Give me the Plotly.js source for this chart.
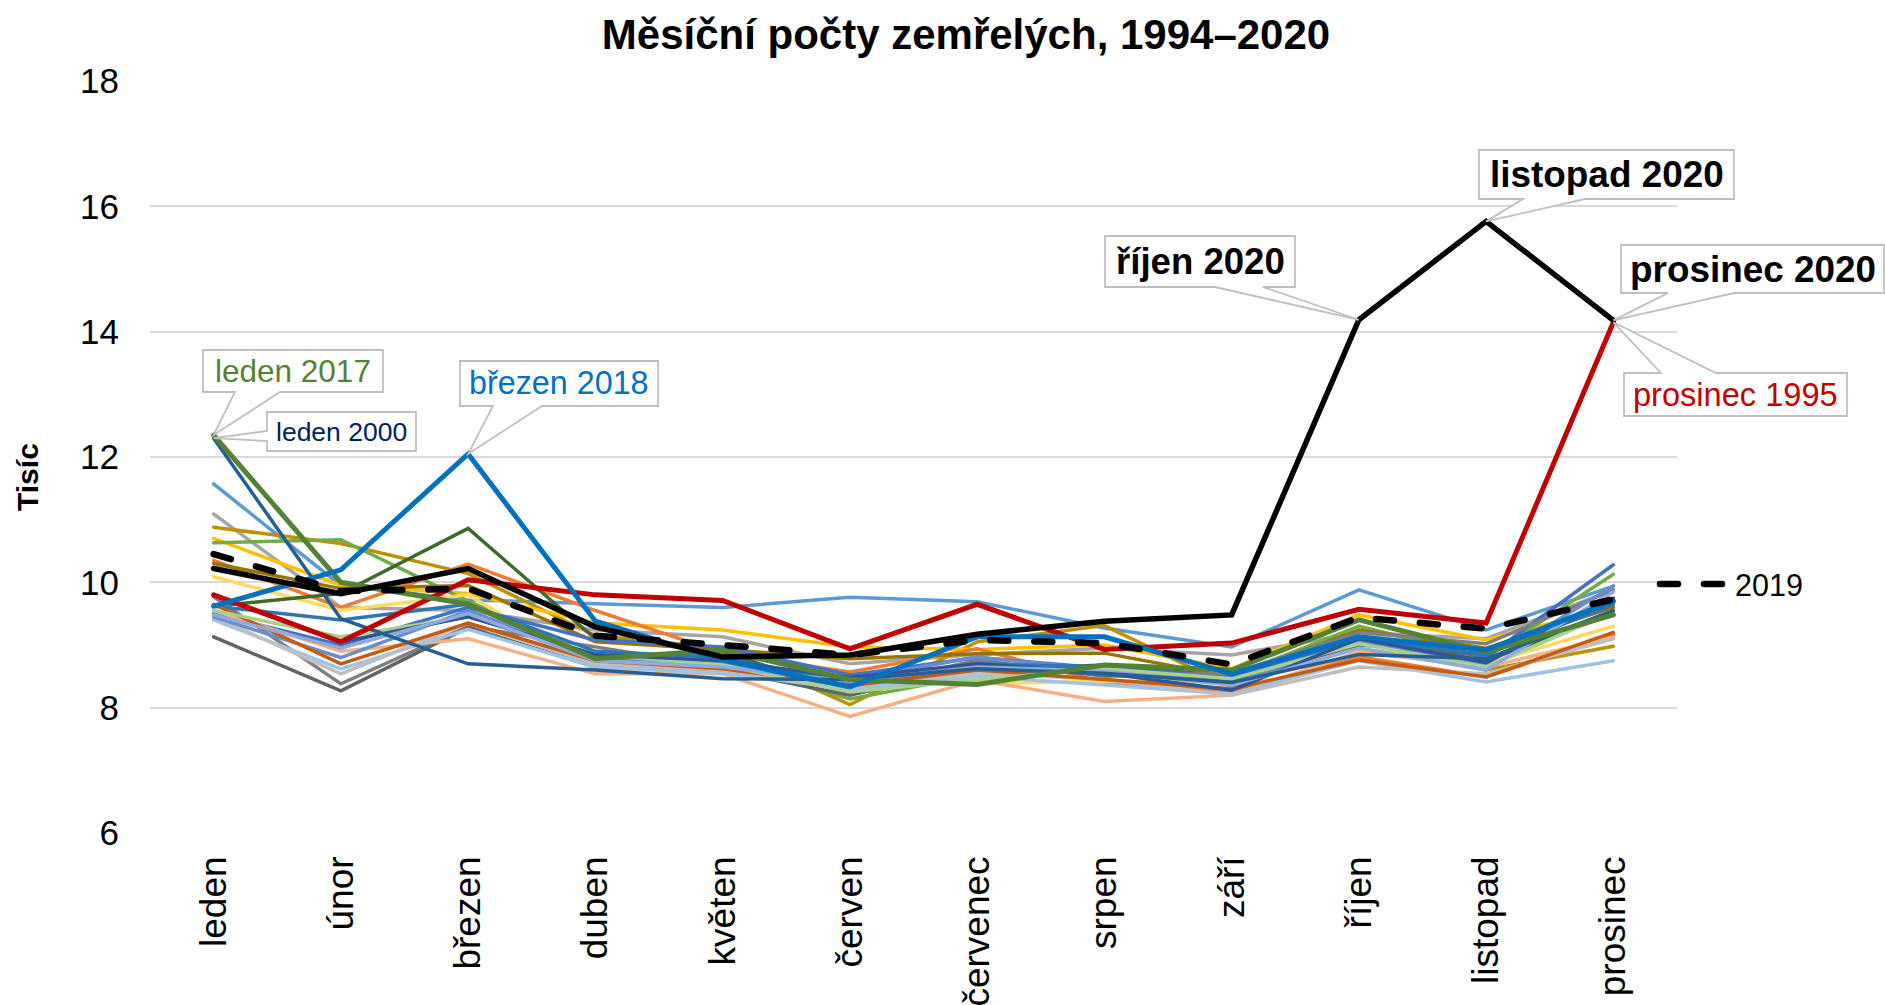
<!DOCTYPE html>
<html>
<head>
<meta charset="utf-8">
<script src="https://cdn.plot.ly/plotly-3.0.1.min.js"></script>
<style>
html,body{margin:0;padding:0;background:#fff;}
#chart{width:1885px;height:1005px;}
path.js-line{stroke-linecap:round;}
.shapelayer path{stroke-linecap:round;}
</style>
</head>
<body>
<div id="chart"></div>
<script>
// ---------- DATA (thousands of deaths per month) ----------
const months = ['leden','únor','březen','duben','květen','červen','červenec','srpen','září','říjen','listopad','prosinec'];

const y1994 = [11.57, 9.95, 9.72, 9.66, 9.60, 9.76, 9.69, 9.27, 8.97, 9.88, 9.24, 9.94];
const y1995 = [9.80, 9.05, 10.04, 9.80, 9.71, 8.94, 9.65, 8.93, 9.03, 9.57, 9.35, 14.15];
const y1996 = [11.09, 9.60, 9.55, 9.24, 9.13, 8.70, 8.85, 8.95, 8.84, 9.20, 9.10, 9.88];
const y1997 = [10.88, 10.62, 10.14, 9.15, 8.95, 8.05, 9.05, 9.31, 8.33, 9.05, 8.60, 8.98];
const y1998 = [10.70, 9.95, 9.82, 9.35, 9.24, 8.97, 8.93, 9.00, 8.62, 9.48, 9.08, 9.61];
const y1999 = [10.63, 10.68, 9.70, 8.80, 8.72, 8.14, 8.52, 8.60, 8.50, 9.30, 8.80, 10.13];
const y2000 = [12.30, 9.42, 8.70, 8.60, 8.46, 8.45, 8.62, 8.55, 8.40, 8.85, 8.78, 9.55];
const y2001 = [10.35, 9.60, 10.29, 9.55, 8.87, 8.57, 8.94, 8.40, 8.25, 8.81, 8.49, 9.16];
const y2002 = [10.09, 9.55, 9.80, 8.60, 8.60, 8.40, 8.38, 8.42, 8.40, 8.94, 8.70, 9.30];
const y2003 = [9.62, 9.82, 10.86, 9.10, 8.90, 8.21, 8.60, 8.68, 8.50, 9.10, 8.75, 9.50];
const y2004 = [10.30, 9.90, 9.95, 9.05, 8.93, 8.78, 8.86, 8.87, 8.49, 9.24, 8.95, 9.60];
const y2005 = [9.50, 9.00, 9.60, 9.08, 8.97, 8.52, 8.80, 8.63, 8.50, 9.12, 8.81, 10.28];
const y2006 = [9.77, 8.38, 9.30, 8.97, 8.65, 8.28, 8.76, 8.50, 8.55, 9.20, 9.02, 9.88];
const y2007 = [9.13, 8.27, 9.28, 8.65, 8.60, 8.20, 8.68, 8.52, 8.44, 9.00, 8.85, 9.70];
const y2008 = [9.55, 8.90, 9.10, 8.54, 8.54, 7.86, 8.44, 8.10, 8.20, 8.89, 8.65, 9.12];
const y2009 = [9.40, 8.62, 9.25, 8.65, 8.55, 8.30, 8.50, 8.36, 8.22, 8.75, 8.41, 8.75];
const y2010 = [9.45, 8.54, 9.35, 8.70, 8.60, 8.35, 8.55, 8.45, 8.20, 8.65, 8.54, 9.10];
const y2011 = [9.45, 8.80, 9.55, 8.80, 8.70, 8.45, 8.81, 8.60, 8.38, 9.05, 8.70, 9.94];
const y2012 = [9.62, 9.40, 9.65, 8.90, 8.80, 8.40, 8.70, 8.65, 8.45, 9.10, 8.85, 9.65];
const y2013 = [9.65, 8.70, 9.35, 8.75, 8.62, 8.35, 8.60, 8.45, 8.30, 8.76, 8.49, 9.20];
const y2014 = [9.55, 9.13, 9.45, 8.85, 8.68, 8.25, 8.45, 8.62, 8.46, 9.02, 8.65, 9.53];
const y2015 = [9.80, 9.05, 9.45, 8.85, 8.75, 8.48, 8.70, 8.55, 8.28, 9.10, 8.72, 9.75];
const y2016 = [9.48, 8.95, 9.50, 8.75, 8.65, 8.42, 8.65, 8.58, 8.36, 8.95, 8.60, 9.85];
const y2017 = [12.35, 10.00, 9.65, 8.78, 8.92, 8.45, 8.37, 8.68, 8.60, 9.40, 8.89, 9.48];
const y2018 = [9.62, 10.20, 12.05, 9.38, 8.76, 8.33, 9.13, 9.13, 8.54, 9.13, 8.92, 9.70];
const y2019 = [10.45, 9.86, 9.90, 9.15, 9.00, 8.84, 9.08, 9.03, 8.69, 9.44, 9.26, 9.73];
const y2020 = [10.22, 9.82, 10.22, 9.29, 8.81, 8.84, 9.17, 9.38, 9.48, 14.19, 15.76, 14.18];

const yTicks = [6, 8, 10, 12, 14, 16, 18];

// ---------- STYLES ----------
const FONT = "'Liberation Sans', Arial, Helvetica, sans-serif";
const W = 1885, H = 1005;
const M = {l:150, r:208, t:81, b:172};
const PW = W - M.l - M.r, PH = H - M.t - M.b;
const YMIN = 6, YMAX = 18;

const seriesSpec = [
  {name:'1994', data:y1994, color:'#5B9BD5', width:3.5},
  {name:'1996', data:y1996, color:'#A5A5A5', width:3.5},
  {name:'1997', data:y1997, color:'#BF9000', width:3.5},
  {name:'1998', data:y1998, color:'#FFC000', width:3.5},
  {name:'1999', data:y1999, color:'#70AD47', width:3.5},
  {name:'2001', data:y2001, color:'#ED7D31', width:3.5},
  {name:'2002', data:y2002, color:'#FFD966', width:3.5},
  {name:'2003', data:y2003, color:'#43682B', width:3.5},
  {name:'2004', data:y2004, color:'#997300', width:3.5},
  {name:'2005', data:y2005, color:'#4472C4', width:3.5},
  {name:'2006', data:y2006, color:'#7F7F7F', width:3.5},
  {name:'2007', data:y2007, color:'#636363', width:3.5},
  {name:'2008', data:y2008, color:'#F4B183', width:3.5},
  {name:'2009', data:y2009, color:'#9DC3E6', width:3.5},
  {name:'2010', data:y2010, color:'#BFBFBF', width:3.5},
  {name:'2011', data:y2011, color:'#698ED0', width:3.5},
  {name:'2012', data:y2012, color:'#2E75B6', width:3.5},
  {name:'2013', data:y2013, color:'#C55A11', width:3.5},
  {name:'2014', data:y2014, color:'#A9D18E', width:3.5},
  {name:'2015', data:y2015, color:'#2F5597', width:3.5},
  {name:'2016', data:y2016, color:'#8FAADC', width:3.5},
  {name:'2000', data:y2000, color:'#255E91', width:3.5},
  {name:'1995', data:y1995, color:'#C00000', width:5},
  {name:'2017', data:y2017, color:'#548235', width:5},
  {name:'2018', data:y2018, color:'#0070C0', width:5},
  {name:'2019', data:y2019, color:'#000000', width:6.5, dash:'18px,26px'},
  {name:'2020', data:y2020, color:'#000000', width:5.5}
];

const traces = seriesSpec.map(s => ({
  type:'scatter', mode:'lines', name:s.name,
  x: months, y: s.data,
  line:{color:s.color, width:s.width, dash:s.dash || 'solid', simplify:false},
  hovertemplate: s.name + ' %{x}: %{y:.2f} tis.<extra></extra>'
}));

// ---------- CALLOUTS ----------
const px = X => (X - M.l) / PW;
const py = Y => (H - M.b - Y) / PH;
const tipX = i => (i + 0.5) / months.length;
const tipY = v => (v - YMIN) / (YMAX - YMIN);

const callouts = [
  {text:'leden 2017', series:y2017, idx:0, box:[203,350,383,392], side:'bottom', base:[235,280], size:31.5, color:'#548235'},
  {text:'leden 2000', series:y2000, idx:0, box:[267,412,416,451], side:'left', base:[431,441], size:26.5, color:'#002060'},
  {text:'březen 2018', series:y2018, idx:2, box:[460,361,658,406], side:'bottom', base:[493,542], size:32.3, color:'#0070C0'},
  {text:'říjen 2020', series:y2020, idx:9, box:[1105,236,1295,287], side:'bottom', base:[1215,1263], size:36.6, color:'#000000', bold:true},
  {text:'listopad 2020', series:y2020, idx:10, box:[1479,150,1734,199], side:'bottom', base:[1523,1585], size:36.9, color:'#000000', bold:true},
  {text:'prosinec 2020', series:y2020, idx:11, box:[1621,245,1884,293], side:'bottom', base:[1668,1734], size:36.9, color:'#000000', bold:true},
  {text:'prosinec 1995', series:y1995, idx:11, box:[1624,373,1847,416], side:'top', base:[1661,1716], size:32.6, color:'#C00000'}
];

function calloutPath(c) {
  const [x0,y0,x1,y1] = c.box;
  const T = 'T';
  let pts;
  if (c.side === 'bottom') pts = [[x0,y0],[x1,y0],[x1,y1],[c.base[1],y1],T,[c.base[0],y1],[x0,y1]];
  else if (c.side === 'top') pts = [[x0,y0],[c.base[0],y0],T,[c.base[1],y0],[x1,y0],[x1,y1],[x0,y1]];
  else pts = [[x0,y0],[x1,y0],[x1,y1],[x0,y1],[x0,c.base[1]],T,[x0,c.base[0]]];
  const tx = tipX(c.idx), ty = tipY(c.series[c.idx]);
  return 'M' + pts.map(p => p === T ? (tx + ',' + ty) : (px(p[0]) + ',' + py(p[1]))).join(' L') + ' Z';
}

const shapes = callouts.map(c => ({
  type:'path', xref:'paper', yref:'paper', path: calloutPath(c),
  fillcolor:'#FFFFFF', line:{color:'#BFBFBF', width:1.8}, layer:'above'
}));

// "2019" key (dashed sample + label)
shapes.push({type:'line', xref:'paper', yref:'paper', x0:px(1660), x1:px(1727), y0:py(584), y1:py(584),
  line:{color:'#000000', width:6.5, dash:'18px,26px'}, layer:'above'});

const annotations = callouts.map(c => ({
  xref:'paper', yref:'paper', x: px((c.box[0]+c.box[2])/2), y: py((c.box[1]+c.box[3])/2),
  xanchor:'center', yanchor:'middle', showarrow:false, text:c.text,
  font:{family:FONT, size:c.size, color:c.color, weight: c.bold ? 'bold' : 'normal'}
}));
annotations.push({xref:'paper', yref:'paper', x:px(1733), y:py(585), xanchor:'left', yanchor:'middle',
  showarrow:false, text:'2019', font:{family:FONT, size:30.5, color:'#000000'}});
// y-axis title
annotations.push({xref:'paper', yref:'paper', x:px(27), y:py(477), xanchor:'center', yanchor:'middle',
  showarrow:false, textangle:-90, text:'Tisíc', font:{family:FONT, size:30, weight:'bold', color:'#000000'}});

const layout = {
  width:W, height:H,
  margin:{l:M.l, r:M.r, t:M.t, b:M.b, pad:0},
  paper_bgcolor:'#FFFFFF', plot_bgcolor:'#FFFFFF',
  showlegend:false,
  font:{family:FONT, color:'#000000'},
  title:{text:'Měsíční počty zemřelých, 1994–2020',
    font:{family:FONT, size:42, weight:'bold', color:'#000000'},
    xref:'container', x:966/W, xanchor:'center', yref:'container', y:1-34/H, yanchor:'middle'},
  xaxis:{type:'category', categoryorder:'array', categoryarray:months, range:[-0.5, months.length-0.5],
    tickangle:-90, tickfont:{family:FONT, size:37, color:'#000000'}, showgrid:false, showline:false,
    zeroline:false, ticks:'', ticklabelstandoff:15, fixedrange:true},
  yaxis:{range:[YMIN, YMAX], tickvals:yTicks, ticktext:yTicks.map(String),
    tickfont:{family:FONT, size:35, color:'#000000'}, gridcolor:'#D9D9D9', gridwidth:2,
    showline:false, zeroline:false, ticks:'', ticklabelstandoff:30, fixedrange:true},
  shapes:shapes,
  annotations:annotations
};

Plotly.newPlot('chart', traces, layout, {displayModeBar:false, responsive:false});
</script>
</body>
</html>
